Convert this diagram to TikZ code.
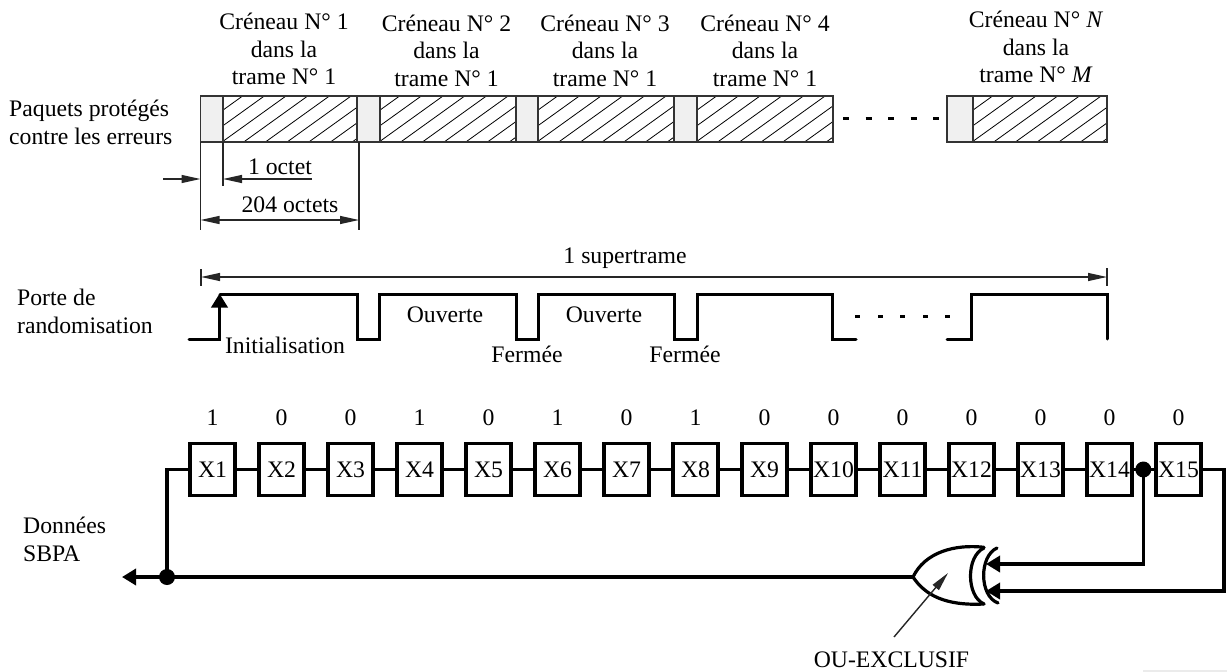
\documentclass[tikz,border=0pt]{standalone}
\usepackage{fontspec}
\setmainfont{Liberation Serif}
\usetikzlibrary{arrows.meta}
\tikzset{
  txt/.style={inner sep=0pt,font=\fontsize{23.7}{27.5}\selectfont,align=center},
  lab/.style={txt,anchor=base},
  txtl/.style={txt,anchor=west,align=left,font=\fontsize{23.7}{28}\selectfont},
  thin line/.style={line width=1.2pt,draw=black!85},
  dim/.style={thin line,{Triangle[length=19pt,width=8pt]}-{Triangle[length=19pt,width=8pt]}},
  onetip/.style={thin line,-{Triangle[length=19pt,width=8pt]}},
  wave/.style={line width=3pt,line cap=round,line join=miter},
  wire/.style={line width=3.6pt,line join=miter},
  reg/.style={draw,line width=3.6pt,minimum width=45pt,minimum height=52pt,inner sep=0pt,fill=white,font=\fontsize{23.7}{24}\selectfont},
  graycell/.style={draw=black!80,line width=1.4pt,fill=black!6},
  hatchcell/.style={draw=black!80,line width=1.4pt},
  wtip/.style={-{Triangle[length=14pt,width=16pt]}},
  gate/.style={line width=3.2pt,line cap=round},
}
\newcommand{\hatchbox}[2]{%
  \begin{scope}
    \clip (#1,96) rectangle (#2,142);
    \foreach \k in {0,...,8}
      \draw[line width=0.8pt] ({#1+\k*21.7-1},142) -- ++(64,-46);
    \foreach \k in {1,2,3}
      \draw[line width=0.8pt] ({#1-\k*21.7-1},142) -- ++(64,-46);
  \end{scope}
  \draw[hatchcell] (#1,96) rectangle (#2,142);
}
\begin{document}
\begin{tikzpicture}[x=1pt,y=-1pt]
\useasboundingbox (0,0) rectangle (1227,672);
% top bar
\node[txt] (h1) at (284,49) {Créneau N° 1\\dans la\\trame N° 1};
\node[txt] (h2) at (446.5,50.5) {Créneau N° 2\\dans la\\trame N° 1};
\node[txt] (h3) at (605,50.5) {Créneau N° 3\\dans la\\trame N° 1};
\node[txt] (h4) at (765,50.5) {Créneau N° 4\\dans la\\trame N° 1};
\node[txt] (h5) at (1036,47) {Créneau N° \textit{N}\\dans la\\trame N° \textit{M}};
\node[txtl,font=\fontsize{23.7}{27.5}\selectfont] (pq) at (9,122.5) {Paquets protégés\\contre les erreurs};
\foreach \a/\b in {200.5/223,357/380,516/538,674/697,947/973}
  \draw[graycell] (\a,96) rectangle (\b,142);
\hatchbox{223}{357}
\hatchbox{380}{516}
\hatchbox{538}{674}
\hatchbox{697}{833}
\hatchbox{973}{1107}
\foreach \x in {843,865.5,888,910.5,933}
  \draw[line width=2.6pt] (\x,118.5) -- ++(6,0);
% dimensions
\coordinate (d1t) at (200.5,142); \coordinate (d1b) at (200.5,230);
\coordinate (d2t) at (223,142); \coordinate (d2b) at (223,186);
\coordinate (d3t) at (359,142); \coordinate (d3b) at (359,230);
\draw[thin line] (d1t)--(d1b); \draw[thin line] (d2t)--(d2b); \draw[thin line] (d3t)--(d3b);
\coordinate (a1) at (163,179); \coordinate (a2) at (200.5,179);
\coordinate (a3) at (312,179); \coordinate (a4) at (223,179);
\draw[onetip] (a1)--(a2); \draw[onetip] (a3)--(a4);
\node[lab] (o1) at (280,174) {1 octet};
\node[lab] (o2) at (290,212) {204 octets};
\coordinate (a5) at (200.5,220); \coordinate (a6) at (359,220);
\draw[dim] (a5)--(a6);
% supertrame
\node[lab] (st) at (625,263) {1 supertrame};
\coordinate (s1) at (201,277); \coordinate (s2) at (1107,277);
\draw[dim] (s1)--(s2);
\draw[thin line] (201,269)--(201,286); \draw[thin line] (1107,268)--(1107,286);
% porte
\node[txtl] (pr) at (17,311.5) {Porte de\\randomisation};
\coordinate (w0) at (189,339); \coordinate (w1) at (219.5,339); \coordinate (w2) at (219.5,293.5);
\draw[wave] (w0)--(w1)--(219.5,320);
\draw[line width=3.6pt,wtip] (w1)--(w2);
\draw[wave] (220,294)--(357,294)--(357,339)--(379,339)--(379,294)--(516,294)--(516,339)--(538,339)--(538,294)--(674,294)--(674,339)--(697,339)--(697,294)--(832,294)--(832,339)--(856,339);
\foreach \x in {855,878,900,923,945}
  \draw[line width=2.6pt] (\x,316.7) -- ++(5,0);
\draw[wave] (947,339)--(971,339)--(971,294)--(1107,294)--(1107,339);
\node[lab] (in) at (285,353) {Initialisation};
\node[lab] (ov1) at (445,322) {Ouverte};
\node[lab] (ov2) at (604,322) {Ouverte};
\node[lab] (fe1) at (527,362) {Fermée};
\node[lab] (fe2) at (685,362) {Fermée};
% register
\foreach \i/\b [count=\n from 0] in {1/1,2/0,3/0,4/1,5/0,6/1,7/0,8/1,9/0,10/0,11/0,12/0,13/0,14/0,15/0}{
  \pgfmathsetmacro\cx{212.5+69*\n}
  \node[reg] (X\i) at (\cx,469.5) {X\i};
  \node[txt] (B\i) at (\cx,418) {\b};
}
\foreach \a/\b in {1/2,2/3,3/4,4/5,5/6,6/7,7/8,8/9,9/10,10/11,11/12,12/13,13/14,14/15}
  \draw[wire] (X\a)--(X\b);
\node[txtl] (dn) at (23,539) {Données\\SBPA};
\coordinate (j1) at (167,577);
\coordinate (j2) at (1143.3,469.5);
\coordinate (out) at (913,577);
\coordinate (i1) at (986,564);
\coordinate (i2) at (986,591);
\coordinate (lft) at (122,577);
\draw[wire] (X1.west)-|(j1);
\draw[wire,wtip] (j1)--(lft);
\draw[wire] (j1)--(out);
\fill (j1) circle (8);
\fill (j2) circle (8);
\draw[wire,wtip] (j2)|-(i1);
\draw[wire,wtip] (X15.east)-|(1224,591)--(i2);
% xor gate
\draw[gate] (984,547.3) .. controls (955,544) and (925,552) .. (913,577) .. controls (925,595) and (945,606) .. (984,604);
\draw[gate] (984,548) .. controls (966,556) and (966,596) .. (984,604);
\draw[gate] (997,548) .. controls (979,556) and (979,596) .. (998,603);
% or label
\node[lab] (ox) at (891.5,667) {OU-EXCLUSIF};
\coordinate (ox1) at (894,637); \coordinate (ox2) at (948,573);
\draw[onetip,line width=1.4pt] (ox1)--(ox2);
\fill[black!8] (1143,670) rectangle (1227,672);
\end{tikzpicture}
\end{document}
